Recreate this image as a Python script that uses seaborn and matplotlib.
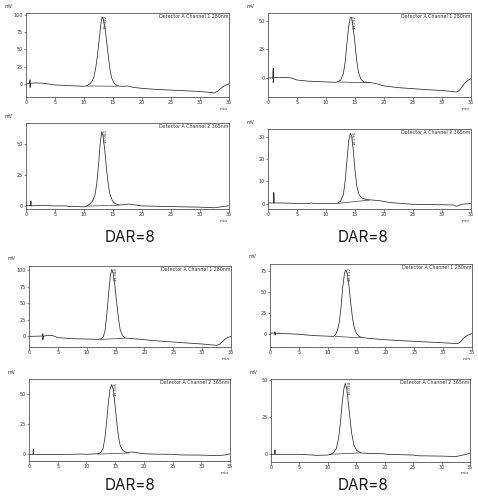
import matplotlib
matplotlib.use("Agg")
import matplotlib.pyplot as plt
import seaborn as sns
import pandas as pd
from matplotlib.ticker import MultipleLocator

sns.set_style("white")
plt.rcParams['font.family'] = ['DejaVu Sans']

# ---------------- data ----------------
t1 = [0, 0.6, 0.7, 0.7, 0.75, 0.8, 1.5, 3, 5, 7.5, 10, 10.5, 11.0, 11.4, 11.7, 12.0, 12.3, 12.6, 12.9, 13.1, 13.35, 13.6, 13.9, 14.2, 14.5, 14.8, 15.2, 15.6, 16.0, 16.5, 17.5, 18.5, 20, 22.5, 25, 27.5, 30, 32.5, 33, 33.5, 34, 34.5, 35]
y1 = [0, 0.5, 6, -5, 0.5, 1, 1.5, 1, -1.5, -2.5, -3.5, -2.5, 0, 4, 10, 22, 40, 63, 86, 97, 94, 82, 62, 40, 20, 8, 1, -2, -3, -3.5, -3, -5, -6.5, -8, -9, -10, -11, -13, -11, -7, -4, -1.5, 0]

t2 = [0, 0.8, 0.85, 0.9, 1.5, 3, 5, 7, 7.5, 8, 10, 10.5, 11.0, 11.5, 11.9, 12.2, 12.5, 12.8, 13.05, 13.3, 13.6, 13.9, 14.2, 14.5, 14.9, 15.3, 16, 17, 17.7, 18.5, 20, 22.5, 25, 27.5, 30, 32.5, 34, 35]
y2 = [0.3, 0.3, 4, 0, 0.3, 0.3, 0, 0, -0.6, -0.3, -0.8, 0, 1.5, 4, 9, 18, 33, 51, 60, 56, 44, 29, 17, 9, 4, 2, 0.8, 1.0, 1.5, 1.0, 0, -0.3, -0.5, -0.8, -1, -1.5, -0.5, 0.2]

t3 = [0, 0.85, 0.9, 0.9, 0.95, 1.5, 3, 4, 5, 7, 10, 11.5, 12.0, 12.5, 13.0, 13.3, 13.6, 13.9, 14.2, 14.4, 14.7, 15.0, 15.3, 15.6, 16.0, 16.5, 17.5, 18.5, 20, 22.5, 25, 27.5, 30, 32.5, 33, 33.5, 34, 34.5, 35]
y3 = [0, 0, 8.5, -4, 0, 0.5, 0.5, 0, -1.8, -2.8, -3.5, -3.8, -3.5, -2, 4, 14, 30, 45, 53, 53, 44, 30, 15, 5, -1, -3.5, -4, -4.7, -7, -8.5, -9.4, -10.3, -11, -12.3, -11, -7.5, -4, -2, -0.6]

t4 = [0, 1.0, 1.0, 1.05, 2, 4, 5, 7, 7.5, 8, 10, 11.5, 12.0, 12.5, 13.0, 13.3, 13.6, 13.9, 14.2, 14.4, 14.7, 15.0, 15.3, 15.7, 16.2, 17.0, 18.0, 19.0, 20.0, 21, 22.5, 25, 27.5, 30, 32, 32.5, 33.5, 35]
y4 = [0.3, 0.3, 5, 0.3, 0.3, 0.2, 0, 0, 0.3, 0, 0, 0, 0.2, 1, 4, 10, 19, 28, 31.5, 30.5, 24, 15, 8, 4, 2.5, 1.8, 1.6, 1.4, 1.0, 0.5, 0.2, -0.3, -0.4, -0.5, -0.6, -1.2, -0.2, 0]

t5 = [0, 2.3, 2.4, 2.4, 2.5, 3, 4, 5, 7.5, 10, 12.0, 12.5, 12.9, 13.2, 13.5, 13.8, 14.1, 14.35, 14.6, 14.9, 15.2, 15.5, 15.8, 16.2, 16.6, 17.5, 20, 22.5, 25, 27.5, 30, 32.5, 33, 33.5, 34, 34.5, 35]
y5 = [0, 0.5, 4, -5, 0.5, 1, 1.5, -2, -3.5, -4, -4.5, -3.5, 0, 10, 35, 65, 92, 101, 94, 75, 50, 27, 10, 1, -2.5, -3, -5, -7, -8.5, -10, -11.5, -13.5, -12, -8, -4, -1.5, 0]

t6 = [0, 0.7, 0.75, 0.8, 1.5, 3, 5, 7, 9, 10, 11, 12.0, 12.5, 12.9, 13.2, 13.5, 13.8, 14.1, 14.4, 14.7, 15.0, 15.3, 15.6, 15.9, 16.4, 17.0, 18.0, 19.0, 20.0, 22.0, 25.5, 26.5, 30, 32.5, 34, 35]
y6 = [0, 0, 4.5, 0, 0, 0, 0, 0, 0.3, 0, 0.3, 0.5, 1.5, 5, 13, 26, 42, 54, 58, 53, 40, 26, 14, 7, 3, 1.5, 2.0, 1.2, 0.5, 0.2, 0, -0.5, -0.6, -1, -0.6, 0.4]

t7 = [0, 0.8, 0.87, 0.87, 0.95, 2, 5, 7.5, 10, 11.0, 11.4, 11.7, 12.0, 12.3, 12.6, 12.9, 13.15, 13.4, 13.7, 14.0, 14.3, 14.6, 15.0, 15.4, 16.0, 17.5, 20, 22.5, 25, 27.5, 30, 32.5, 33, 33.5, 34, 34.5, 35]
y7 = [1.5, 1.5, 3, -1, 1.2, 1, 0, -1.5, -2.2, -2.5, 0, 5, 14, 32, 55, 72, 76, 71, 56, 36, 19, 8, 1, -2.5, -4, -5, -6.4, -7.5, -8.3, -9.2, -10, -11, -9, -5, -2, -0.5, 0.8]

t8 = [0, 0.65, 0.7, 0.75, 1.5, 3, 5, 7, 8, 10.0, 10.5, 11.0, 11.5, 11.9, 12.2, 12.5, 12.8, 13.05, 13.3, 13.6, 13.9, 14.2, 14.6, 15.1, 15.8, 17.0, 19.5, 20.5, 22.5, 25, 26, 30, 32.5, 34, 35]
y8 = [0, 0, 3, 0, 0, 0, 0, -0.4, -0.7, -0.5, 0, 1.2, 4, 11, 21, 34, 44, 48, 45, 35, 24, 14, 6, 2.5, 1, 0.6, 0.5, 0, -0.2, -0.5, -1.0, -1.2, -1.5, -0.3, 0.8]

# integration baselines under the main peak
bl_t = [[10.4, 15.8], [10.4, 16.0], [12.0, 17.5], [12.0, 17.5],
        [12.3, 16.5], [12.0, 17.5], [11.3, 15.8], [10.3, 15.8]]
bl_y = [[-3, -3.3], [-0.2, 0.6], [-3.5, -4.2], [0.1, 1.6],
        [-4.5, -3], [0.2, 1.2], [-2.5, -4.2], [0, 1]]

# peak retention-time labels
peak_rt = ["13.092", "13.081", "14.297", "14.296", "14.344", "14.356", "13.112", "13.094"]
peak_t = [13.1, 13.05, 14.3, 14.3, 14.35, 14.4, 13.15, 13.05]
peak_v = [97, 60, 53, 31.5, 101, 58, 76, 48]

detector = ["Detector A Channel 1 280nm", "Detector A Channel 2 365nm"] * 4
y_lims = [(-19, 103), (-2.5, 67), (-16.7, 57), (-2.4, 33.4),
          (-16, 106), (-5.5, 62.5), (-15, 83), (-5.2, 51)]
y_steps = [25, 25, 25, 10, 25, 25, 25, 25]
dar_label = "DAR=8"

traces = [(t1, y1), (t2, y2), (t3, y3), (t4, y4), (t5, y5), (t6, y6), (t7, y7), (t8, y8)]

# ---------------- layout (pixel boxes: left, right, top, bottom) ----------------
W, H = 478, 501
boxes = [(26, 229, 13, 97), (26, 229, 123, 209), (268, 471, 13, 97), (268, 471, 129, 209),
         (29, 231, 266, 347), (29, 230, 379, 461), (270, 472, 264, 347), (271, 470, 379, 462)]

fig = plt.figure(figsize=(W / 100, H / 100), dpi=100)
fig.patch.set_facecolor("white")

line_c = "#2b2b2b"
for i, ((tt, yy), (L, R, T, B)) in enumerate(zip(traces, boxes)):
    ax = fig.add_axes([L / W, (H - B) / H, (R - L) / W, (B - T) / H])
    df = pd.DataFrame({"t": tt, "v": yy})
    sns.lineplot(data=df, x="t", y="v", ax=ax, color=line_c, linewidth=0.55,
                 estimator=None, sort=False)
    bdf = pd.DataFrame({"t": bl_t[i], "v": bl_y[i]})
    sns.lineplot(data=bdf, x="t", y="v", ax=ax, color=line_c, linewidth=0.45,
                 estimator=None, sort=False)
    ax.set_xlim(0, 35)
    ax.set_ylim(*y_lims[i])
    ax.xaxis.set_major_locator(MultipleLocator(5))
    ax.xaxis.set_minor_locator(MultipleLocator(1))
    ax.yaxis.set_major_locator(MultipleLocator(y_steps[i]))
    ax.tick_params(axis="both", which="major", direction="out", length=1.8, width=0.4,
                   labelsize=3.5, pad=0.6, colors="#333333", bottom=True, left=True)
    ax.tick_params(axis="both", which="minor", direction="out", length=1.0, width=0.3,
                   colors="#333333", bottom=True, left=False)
    ax.set_xlabel("")
    ax.set_ylabel("")
    for s in ax.spines.values():
        s.set_color("#333333")
        s.set_linewidth(0.5)
    ax.text(0.997, 0.985, detector[i], transform=ax.transAxes, ha="right", va="top",
            fontsize=3.4, color="#333333")
    ax.text(peak_t[i] + 0.35, peak_v[i] + (y_lims[i][1] - y_lims[i][0]) * 0.03,
            peak_rt[i], rotation=90, ha="left", va="top", fontsize=3.0, color="#333333")
    fig.text((L - 21) / W, 1 - (T - 7) / H, "mV", fontsize=3.4, color="#333333",
             ha="left", va="center")
    fig.text((R - 5) / W, 1 - (B + 11.5) / H, "min", fontsize=3.2, color="#333333",
             ha="center", va="center")

for (cx, cy) in [(130, 237), (363, 237), (130, 486), (363, 486)]:
    fig.text(cx / W, 1 - cy / H, dar_label, fontsize=11, color="#1a1a1a",
             ha="center", va="center", family=["Inter", "DejaVu Sans"])

fig.savefig("out.png", dpi=100, facecolor="white")
